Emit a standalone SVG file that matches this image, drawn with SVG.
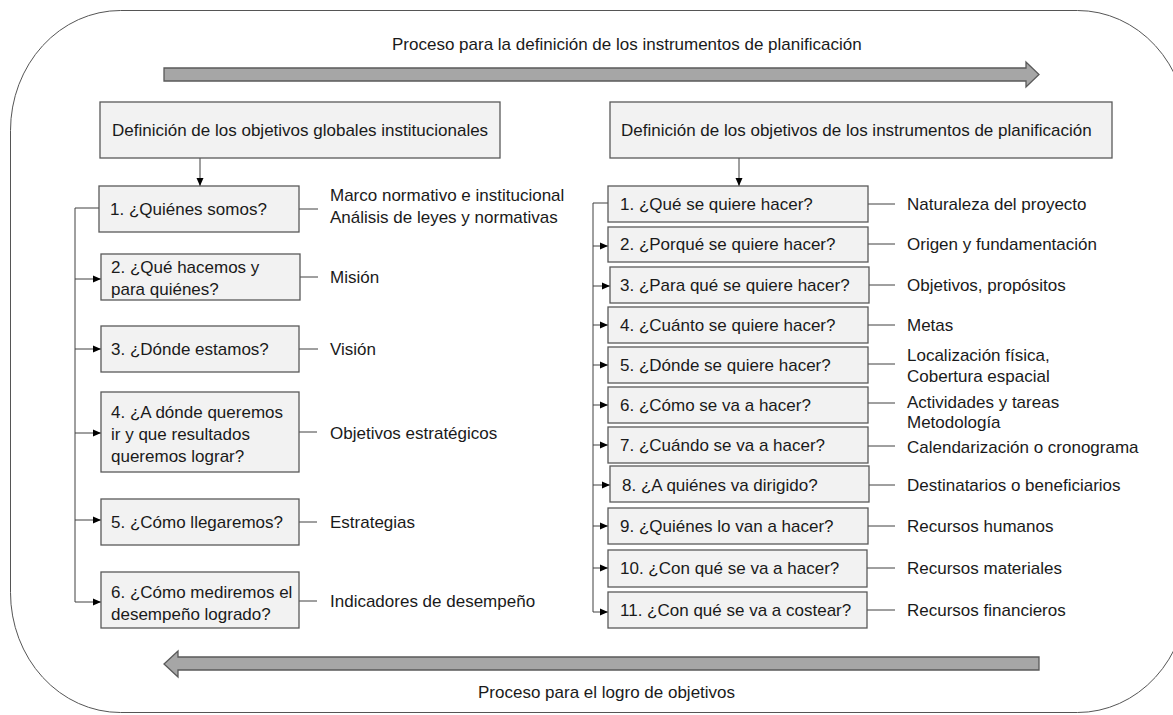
<svg xmlns="http://www.w3.org/2000/svg" width="1173" height="715" viewBox="0 0 1173 715">
  <style>
    text { font-family: "Liberation Sans", Arial, sans-serif; font-size: 17px; fill: #1a1a1a; }
    .box { fill: #f2f2f2; stroke: #595959; stroke-width: 1.3; }
    .big { fill: #a6a6a6; stroke: #595959; stroke-width: 1.3; }
    .ln { fill: none; stroke: #404040; stroke-width: 1; }
    .arr { fill: none; stroke: #404040; stroke-width: 1; marker-end: url(#ah); }
  </style>
  <defs>
    <marker id="ah" markerUnits="userSpaceOnUse" markerWidth="9" markerHeight="8" refX="8" refY="4" orient="auto">
      <path d="M0,0.5 L8,4 L0,7.5 z" fill="#000"/>
    </marker>
  </defs>

  <rect width="1173" height="715" fill="#fff"/>

  <!-- outer frame -->
  <rect x="10.5" y="10.5" width="1177" height="702" rx="110" ry="120" fill="none" stroke="#555" stroke-width="1"/>

  <!-- process arrows -->
  <g id="flow-top">
    <path class="big" d="M164,68 H1026 V62 L1039,74.5 L1026,87 V81 H164 z"/>
    <text x="392" y="50">Proceso para la definición de los instrumentos de planificación</text>
  </g>
  <g id="flow-bottom">
    <path class="big" d="M1039,657 H178 V651 L164,664 L178,677 V670 H1039 z"/>
    <text x="478" y="698">Proceso para el logro de objetivos</text>
  </g>

  <!-- connectors -->
  <g id="connectors">
    <line class="arr" x1="200" y1="158" x2="200" y2="186"/>
    <path class="arr" d="M99,208 H75 V602 H101"/>
    <line class="arr" x1="75" y1="279" x2="101" y2="279"/>
    <line class="arr" x1="75" y1="349" x2="101" y2="349"/>
    <line class="arr" x1="75" y1="433" x2="101" y2="433"/>
    <line class="arr" x1="75" y1="520" x2="101" y2="520"/>
    <line class="ln" x1="299" y1="209" x2="318" y2="209"/>
    <line class="ln" x1="300" y1="277" x2="318" y2="277"/>
    <line class="ln" x1="299" y1="349" x2="318" y2="349"/>
    <line class="ln" x1="299" y1="432" x2="317" y2="432"/>
    <line class="ln" x1="299" y1="522" x2="317" y2="522"/>
    <line class="ln" x1="299" y1="601" x2="317" y2="601"/>

    <line class="arr" x1="739" y1="158" x2="739" y2="186"/>
    <path class="arr" d="M608,203 H593 V612 H608"/>
    <line class="arr" x1="593" y1="246" x2="608" y2="246"/>
    <line class="arr" x1="593" y1="286" x2="610" y2="286"/>
    <line class="arr" x1="593" y1="325" x2="608" y2="325"/>
    <line class="arr" x1="593" y1="365" x2="608" y2="365"/>
    <line class="arr" x1="593" y1="405" x2="608" y2="405"/>
    <line class="arr" x1="593" y1="445" x2="608" y2="445"/>
    <line class="arr" x1="593" y1="485" x2="610" y2="485"/>
    <line class="arr" x1="593" y1="526" x2="608" y2="526"/>
    <line class="arr" x1="593" y1="568" x2="608" y2="568"/>
    <line class="ln" x1="868" y1="204" x2="895" y2="204"/>
    <line class="ln" x1="868" y1="244" x2="895" y2="244"/>
    <line class="ln" x1="869" y1="285" x2="895" y2="285"/>
    <line class="ln" x1="868" y1="325" x2="895" y2="325"/>
    <line class="ln" x1="868" y1="364" x2="895" y2="364"/>
    <line class="ln" x1="868" y1="403" x2="895" y2="403"/>
    <line class="ln" x1="868" y1="446" x2="895" y2="446"/>
    <line class="ln" x1="869" y1="485" x2="895" y2="485"/>
    <line class="ln" x1="868" y1="526" x2="895" y2="526"/>
    <line class="ln" x1="867" y1="568" x2="895" y2="568"/>
    <line class="ln" x1="867" y1="610" x2="895" y2="610"/>
  </g>

  <!-- left column -->
  <g id="hdr-left">
    <rect class="box" x="100" y="102" width="400" height="56"/>
    <text x="112" y="136">Definición de los objetivos globales institucionales</text>
  </g>
  <g id="l1">
    <rect class="box" x="99" y="186" width="200" height="46"/>
    <text x="110" y="215">1. ¿Quiénes somos?</text>
    <text x="330" y="201">Marco normativo e institucional</text>
    <text x="330" y="223">Análisis de leyes y normativas</text>
  </g>
  <g id="l2">
    <rect class="box" x="101" y="254" width="199" height="46"/>
    <text x="111" y="273">2. ¿Qué hacemos y</text>
    <text x="111" y="295">para quiénes?</text>
    <text x="330" y="283">Misión</text>
  </g>
  <g id="l3">
    <rect class="box" x="101" y="326" width="198" height="46"/>
    <text x="111" y="355">3. ¿Dónde estamos?</text>
    <text x="330" y="355">Visión</text>
  </g>
  <g id="l4">
    <rect class="box" x="101" y="392" width="198" height="80"/>
    <text x="111" y="418">4. ¿A dónde queremos</text>
    <text x="111" y="440">ir y que resultados</text>
    <text x="111" y="462">queremos lograr?</text>
    <text x="330" y="439">Objetivos estratégicos</text>
  </g>
  <g id="l5">
    <rect class="box" x="101" y="499" width="198" height="46"/>
    <text x="111" y="528">5. ¿Cómo llegaremos?</text>
    <text x="330" y="528">Estrategias</text>
  </g>
  <g id="l6">
    <rect class="box" x="101" y="572" width="198" height="56"/>
    <text x="111" y="598">6. ¿Cómo mediremos el</text>
    <text x="111" y="620">desempeño logrado?</text>
    <text x="330" y="607">Indicadores de desempeño</text>
  </g>

  <!-- right column -->
  <g id="hdr-right">
    <rect class="box" x="610" y="102" width="502" height="56"/>
    <text x="621" y="136">Definición de los objetivos de los instrumentos de planificación</text>
  </g>
  <g id="r1">
    <rect class="box" x="608" y="186" width="260" height="36"/>
    <text x="620" y="210">1. ¿Qué se quiere hacer?</text>
    <text x="907" y="210">Naturaleza del proyecto</text>
  </g>
  <g id="r2">
    <rect class="box" x="608" y="227" width="260" height="35"/>
    <text x="620" y="250">2. ¿Porqué se quiere hacer?</text>
    <text x="907" y="250">Origen y fundamentación</text>
  </g>
  <g id="r3">
    <rect class="box" x="610" y="267" width="259" height="36"/>
    <text x="620" y="291">3. ¿Para qué se quiere hacer?</text>
    <text x="907" y="291">Objetivos, propósitos</text>
  </g>
  <g id="r4">
    <rect class="box" x="608" y="307" width="260" height="36"/>
    <text x="620" y="331">4. ¿Cuánto se quiere hacer?</text>
    <text x="907" y="331">Metas</text>
  </g>
  <g id="r5">
    <rect class="box" x="608" y="347" width="260" height="36"/>
    <text x="620" y="371">5. ¿Dónde se quiere hacer?</text>
    <text x="907" y="361">Localización física,</text>
    <text x="907" y="382">Cobertura espacial</text>
  </g>
  <g id="r6">
    <rect class="box" x="608" y="387" width="260" height="36"/>
    <text x="620" y="411">6. ¿Cómo se va a hacer?</text>
    <text x="907" y="408">Actividades y tareas</text>
    <text x="907" y="428">Metodología</text>
  </g>
  <g id="r7">
    <rect class="box" x="608" y="427" width="260" height="36"/>
    <text x="620" y="451">7. ¿Cuándo se va a hacer?</text>
    <text x="907" y="453">Calendarización o cronograma</text>
  </g>
  <g id="r8">
    <rect class="box" x="610" y="466" width="259" height="36"/>
    <text x="622" y="491">8. ¿A quiénes va dirigido?</text>
    <text x="907" y="491">Destinatarios o beneficiarios</text>
  </g>
  <g id="r9">
    <rect class="box" x="608" y="508" width="260" height="36"/>
    <text x="620" y="532">9. ¿Quiénes lo van a hacer?</text>
    <text x="907" y="532">Recursos humanos</text>
  </g>
  <g id="r10">
    <rect class="box" x="608" y="550" width="259" height="37"/>
    <text x="620" y="574">10. ¿Con qué se va a hacer?</text>
    <text x="907" y="574">Recursos materiales</text>
  </g>
  <g id="r11">
    <rect class="box" x="608" y="592" width="259" height="36"/>
    <text x="620" y="616">11. ¿Con qué se va a costear?</text>
    <text x="907" y="616">Recursos financieros</text>
  </g>
</svg>
